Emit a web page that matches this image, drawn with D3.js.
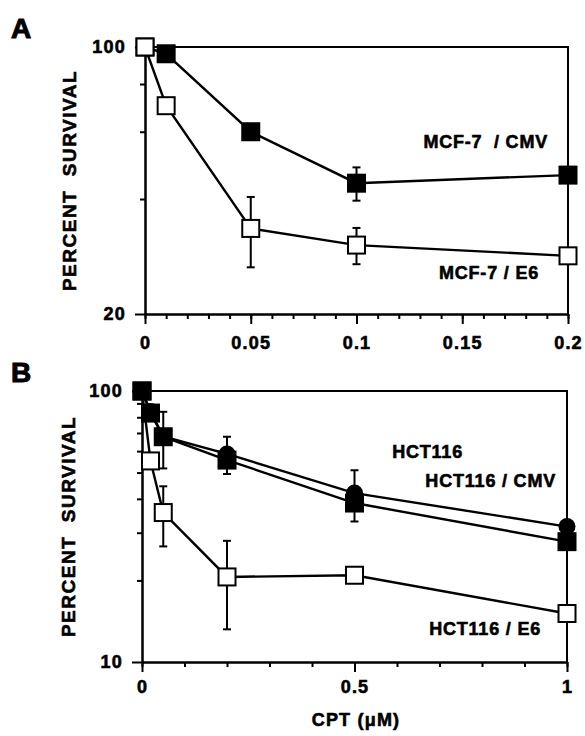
<!DOCTYPE html>
<html>
<head>
<meta charset="utf-8">
<script src="https://cdn.jsdelivr.net/npm/d3@7"></script>
<style>
  body { margin: 0; background: #fff; }
  svg text { font-family: "Liberation Sans", Arial, sans-serif; font-weight: bold; fill: #000;
             stroke: #000; stroke-width: 0.6px; }
</style>
</head>
<body>
<svg id="fig" width="585" height="736"></svg>
<script>
// ---- panel A data (MCF-7) ----
var doseA = [0, 0.01, 0.05, 0.1, 0.2];
var cmvA = [100, 96, 60, 44, 46.2];
var cmvAErr = [0, 0, 0, 4.4, 0];
var e6A = [100, 70.2, 33.5, 30.3, 28.4];
var e6AErr = [0, 0, 7, 3.3, 0];
var xTicksA = [0, 0.05, 0.1, 0.15, 0.2];
var yTicksA = [20, 100];

// ---- panel B data (HCT116) ----
var doseB = [0, 0.02, 0.05, 0.2, 0.5, 1];
var hctB = [100, 84, 68, 58.6, 42, 31.6];
var hctBErr = [0, 0, 0, 9.2, 9, 0];
var cmvB = [100, 82.9, 67.8, 55.6, 38.6, 27.8];
var cmvBErr = [0, 0, 16, 0, 0, 0];
var e6B = [100, 55.2, 35.6, 20.6, 20.9, 15.1];
var e6BErr = [0, 0, 8.9, 7.4, 0, 0];
var xTicksB = [0, 0.5, 1];
var yTicksB = [10, 100];

var svg = d3.select("#fig");

function panel(opt) {
  var x = d3.scaleLinear().domain(opt.xDomain).range([opt.left, opt.right]);
  var y = d3.scaleLog().domain(opt.yDomain).range([opt.bottom, opt.top]);
  var g = svg.append("g");

  // box top + right
  g.append("path")
    .attr("d", "M" + opt.left + "," + opt.top + "H" + opt.right + "V" + opt.bottom)
    .attr("fill", "none").attr("stroke", "#000").attr("stroke-width", 2);

  // y axis: minor then major
  var yMinor = d3.range(opt.yDomain[0], opt.yDomain[1], opt.yDomain[0]).filter(function(v) { return v > opt.yDomain[0]; });
  g.append("g").attr("transform", "translate(" + opt.left + ",0)")
    .call(d3.axisLeft(y).tickValues(yMinor).tickSize(5).tickSizeOuter(0).tickFormat(""));
  g.append("g").attr("transform", "translate(" + opt.left + ",0)")
    .call(d3.axisLeft(y).tickValues(opt.yTicks).tickSize(10).tickSizeOuter(0).tickPadding(opt.yPad).tickFormat(d3.format("d")));

  // x axis
  g.append("g").attr("transform", "translate(0," + opt.bottom + ")")
    .call(d3.axisBottom(x).tickValues(d3.range(0, opt.xDomain[1] + 1e-9, opt.xMinor)).tickSize(5).tickSizeOuter(0).tickFormat(""));
  g.append("g").attr("transform", "translate(0," + opt.bottom + ")")
    .call(d3.axisBottom(x).tickValues(opt.xTicks).tickSize(10).tickSizeOuter(0).tickPadding(opt.xPad).tickFormat(d3.format("")));

  g.selectAll(".domain, .tick line").attr("stroke", "#000").attr("stroke-width", 2);
  g.selectAll(".tick text").style("font-size", "18px").style("letter-spacing", "1.2px");

  // y label
  g.append("text")
    .attr("transform", "translate(" + opt.yLabelX + "," + ((opt.top + opt.bottom) / 2) + ") rotate(-90)")
    .attr("text-anchor", "middle").attr("dy", "0.35em")
    .style("font-size", "19px").style("letter-spacing", "1.5px")
    .attr("xml:space", "preserve")
    .text("PERCENT  SURVIVAL");

  // panel letter
  g.append("text").attr("x", 11).attr("y", opt.letterY)
    .style("font-size", "28px").style("stroke-width", "1px").text(opt.letter);

  var line = d3.line().x(function(d) { return x(d[0]); }).y(function(d) { return y(d[1]); });

  opt.series.forEach(function(s) {
    var pts = opt.dose.map(function(d, i) { return [d, s.values[i], s.err[i]]; });
    g.append("path").datum(pts).attr("d", line)
      .attr("fill", "none").attr("stroke", "#000").attr("stroke-width", 2.4);
  });

  opt.series.forEach(function(s) {
    var pts = opt.dose.map(function(d, i) { return [d, s.values[i], s.err[i]]; })
      .filter(function(p) { return p[2] > 0; });
    var eg = g.append("g").selectAll("g").data(pts).enter().append("g");
    eg.append("line")
      .attr("x1", function(d) { return x(d[0]); }).attr("x2", function(d) { return x(d[0]); })
      .attr("y1", function(d) { return y(d[1] + d[2]); }).attr("y2", function(d) { return y(d[1] - d[2]); });
    [1, -1].forEach(function(sign) {
      eg.append("line")
        .attr("x1", function(d) { return x(d[0]) - 4; }).attr("x2", function(d) { return x(d[0]) + 4; })
        .attr("y1", function(d) { return y(d[1] + sign * d[2]); }).attr("y2", function(d) { return y(d[1] + sign * d[2]); });
    });
    eg.selectAll("line").attr("stroke", "#000").attr("stroke-width", 2);
  });

  opt.series.forEach(function(s) {
    var pts = opt.dose.map(function(d, i) { return [d, s.values[i]]; });
    var mg = g.append("g");
    if (s.shape === "circle") {
      mg.selectAll("circle").data(pts).enter().append("circle")
        .attr("cx", function(d) { return x(d[0]); }).attr("cy", function(d) { return y(d[1]); })
        .attr("r", 8.5).attr("fill", "#000");
    } else {
      mg.selectAll("rect").data(pts).enter().append("rect")
        .attr("x", function(d) { return x(d[0]) - 8.5; }).attr("y", function(d) { return y(d[1]) - 8.5; })
        .attr("width", 17).attr("height", 17)
        .attr("fill", s.open ? "#fff" : "#000")
        .attr("stroke", "#000").attr("stroke-width", 2);
    }
  });

  opt.labels.forEach(function(l) {
    g.append("text").attr("x", l[1]).attr("y", l[2]).attr("text-anchor", "end")
      .attr("xml:space", "preserve")
      .style("font-size", "18px").style("letter-spacing", "0.8px").text(l[0]);
  });
}

panel({
  left: 145, right: 568, top: 47, bottom: 314,
  xDomain: [0, 0.2], yDomain: [20, 100], xMinor: 0.01,
  xTicks: xTicksA, yTicks: yTicksA, xPad: 12, yPad: 9,
  yLabelX: 69, letter: "A", letterY: 38,
  dose: doseA,
  series: [
    {values: cmvA, err: cmvAErr, shape: "square", open: false},
    {values: e6A, err: e6AErr, shape: "square", open: true}
  ],
  labels: [["MCF-7  / CMV", 548, 148], ["MCF-7 / E6", 539, 279]]
});

panel({
  left: 142, right: 567, top: 391, bottom: 662,
  xDomain: [0, 1], yDomain: [10, 100], xMinor: 0.1,
  xTicks: xTicksB, yTicks: yTicksB, xPad: 8, yPad: 9,
  yLabelX: 68, letter: "B", letterY: 382,
  dose: doseB,
  series: [
    {values: e6B, err: e6BErr, shape: "square", open: true},
    {values: hctB, err: hctBErr, shape: "circle"},
    {values: cmvB, err: cmvBErr, shape: "square", open: false}
  ],
  labels: [["HCT116", 463, 458], ["HCT116 / CMV", 556, 487], ["HCT116 / E6", 541, 635]]
});

svg.append("text").attr("x", 356).attr("y", 726).attr("text-anchor", "middle")
  .style("font-size", "18px").style("letter-spacing", "1.2px").text("CPT (\u03bcM)");
</script>
</body>
</html>
